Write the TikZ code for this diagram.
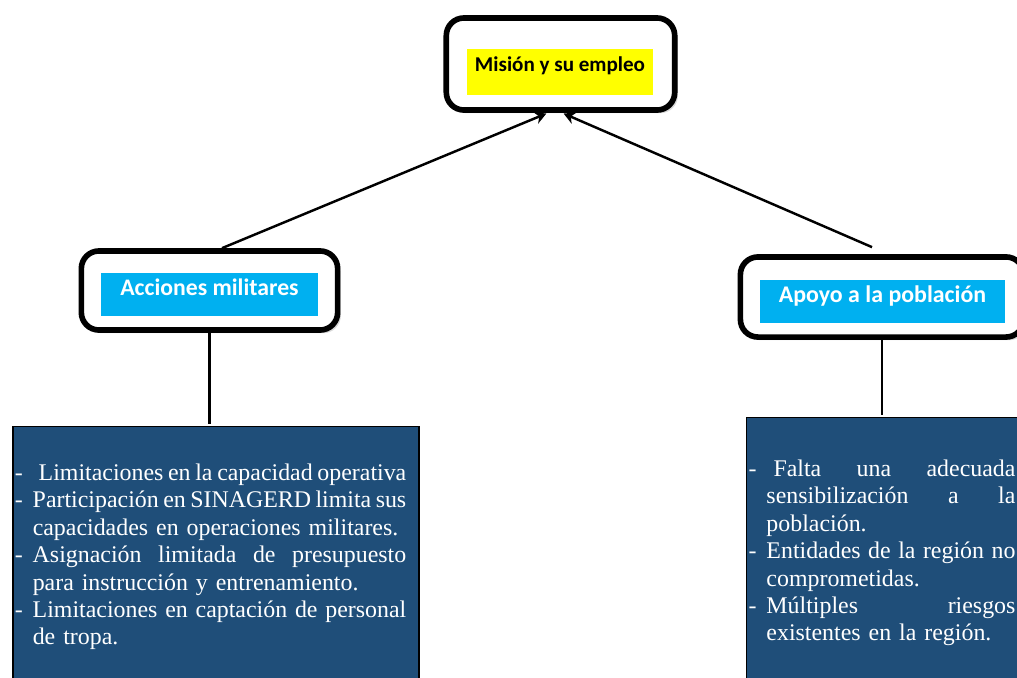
\documentclass[tikz,border=0pt]{standalone}
\usepackage{fontspec}
\setmainfont{Liberation Serif}
\newfontfamily\calibri{Carlito}
\usetikzlibrary{arrows.meta,shadows,positioning}
\definecolor{hlyellow}{HTML}{FFFF00}
\definecolor{hlcyan}{HTML}{00B0F0}
\definecolor{boxblue}{HTML}{1F4E79}
\newcommand{\dsh}{\makebox[10.2pt][l]{-}}
\newcommand{\ind}{\hspace*{10.2pt}}
\newcommand{\jl}[2]{\makebox[#1][s]{\spaceskip=0.25em plus 3em minus 0.1em\relax #2}}

\begin{document}
\begin{tikzpicture}[x=0.02cm,y=-0.02cm,shorten >=1pt,
    frame/.style={draw,fill=white,rounded corners=10pt,line width=3.2pt,
      drop shadow={shadow xshift=1.8pt,shadow yshift=-1.8pt,opacity=0.3}},
    title/.style={inner xsep=0pt,inner ysep=0pt,font=\calibri\bfseries},
    dark/.style={draw=black,line width=0.9pt,fill=boxblue,text=white,
      inner xsep=1.15pt,align=left,font=\fontsize{13.6}{15.6}\selectfont},
    link/.style={line width=1.4pt}]

        \useasboundingbox (0,0) rectangle (1017,677);
        \clip (0,0) rectangle (1017,677);

        % frames
        \node[frame,minimum width=130pt,minimum height=52.4pt]   (Mis) at (560.5,64)    { };
        \node[frame,minimum width=145.9pt,minimum height=45pt]   (Acc) at (209.5,290.5) { };
        \node[frame,minimum width=161.2pt,minimum height=45.6pt] (Apo) at (882,297)     { };

        % titles
        \node[title,fill=hlyellow,minimum width=105.4pt,text height=12.5pt,text depth=13.6pt]
              (MisT) at (560,72)      {\fontsize{12}{14}\selectfont Misión y su empleo};
        \node[title,fill=hlcyan,text=white,minimum width=123pt,text height=12.6pt,text depth=11.8pt]
              (AccT) at (209.5,294.5) {\fontsize{13.5}{15}\selectfont Acciones militares};
        \node[title,fill=hlcyan,text=white,minimum width=138.9pt,text height=12.6pt,text depth=11.8pt]
              (ApoT) at (882.5,301.5) {\fontsize{13.6}{15}\selectfont Apoyo a la población};

        % lists
        \node[dark,text width=229pt,minimum width=230.4pt,minimum height=148.5pt] (Lim) at (216,557) {%
          \dsh\hspace*{3.4pt}\jl{209.2pt}{Limitaciones en la capacidad operativa}\\
          \dsh\jl{212.6pt}{Participación en SINAGERD limita sus}\\
          \ind capacidades en operaciones militares.\\
          \dsh\jl{212.6pt}{Asignación limitada de presupuesto}\\
          \ind para instrucción y entrenamiento.\\
          \dsh\jl{212.6pt}{Limitaciones en captación de personal}\\
          \ind de tropa.};
        \node[dark,text width=151.9pt,minimum width=153.3pt,minimum height=154.2pt] (Pob) at (882,553) {%
          \dsh\hspace*{4pt}\jl{137.7pt}{Falta una adecuada}\\
          \ind\jl{141.7pt}{sensibilización a la}\\
          \ind población.\\
          \dsh\jl{141.7pt}{Entidades de la región no}\\
          \ind comprometidas.\\
          \dsh\jl{141.7pt}{Múltiples riesgos}\\
          \ind existentes en la región.};

        \draw[link,-{Stealth[length=6.5pt,width=7pt]}] ([xshift=0.25cm]Acc.north) -- ([xshift=-0.25cm]Mis.south);
        \draw[link,-{Stealth[length=6.5pt,width=7pt]}] ([xshift=-0.2cm,yshift=0.14cm]Apo.north) -- ([xshift=0.03cm]Mis.south);
        \draw[link] (Acc.south) -- (Acc.south |- Lim.north);
        \draw[link] (Apo.south) -- (Apo.south |- Pob.north);
\end{tikzpicture}
\end{document}
